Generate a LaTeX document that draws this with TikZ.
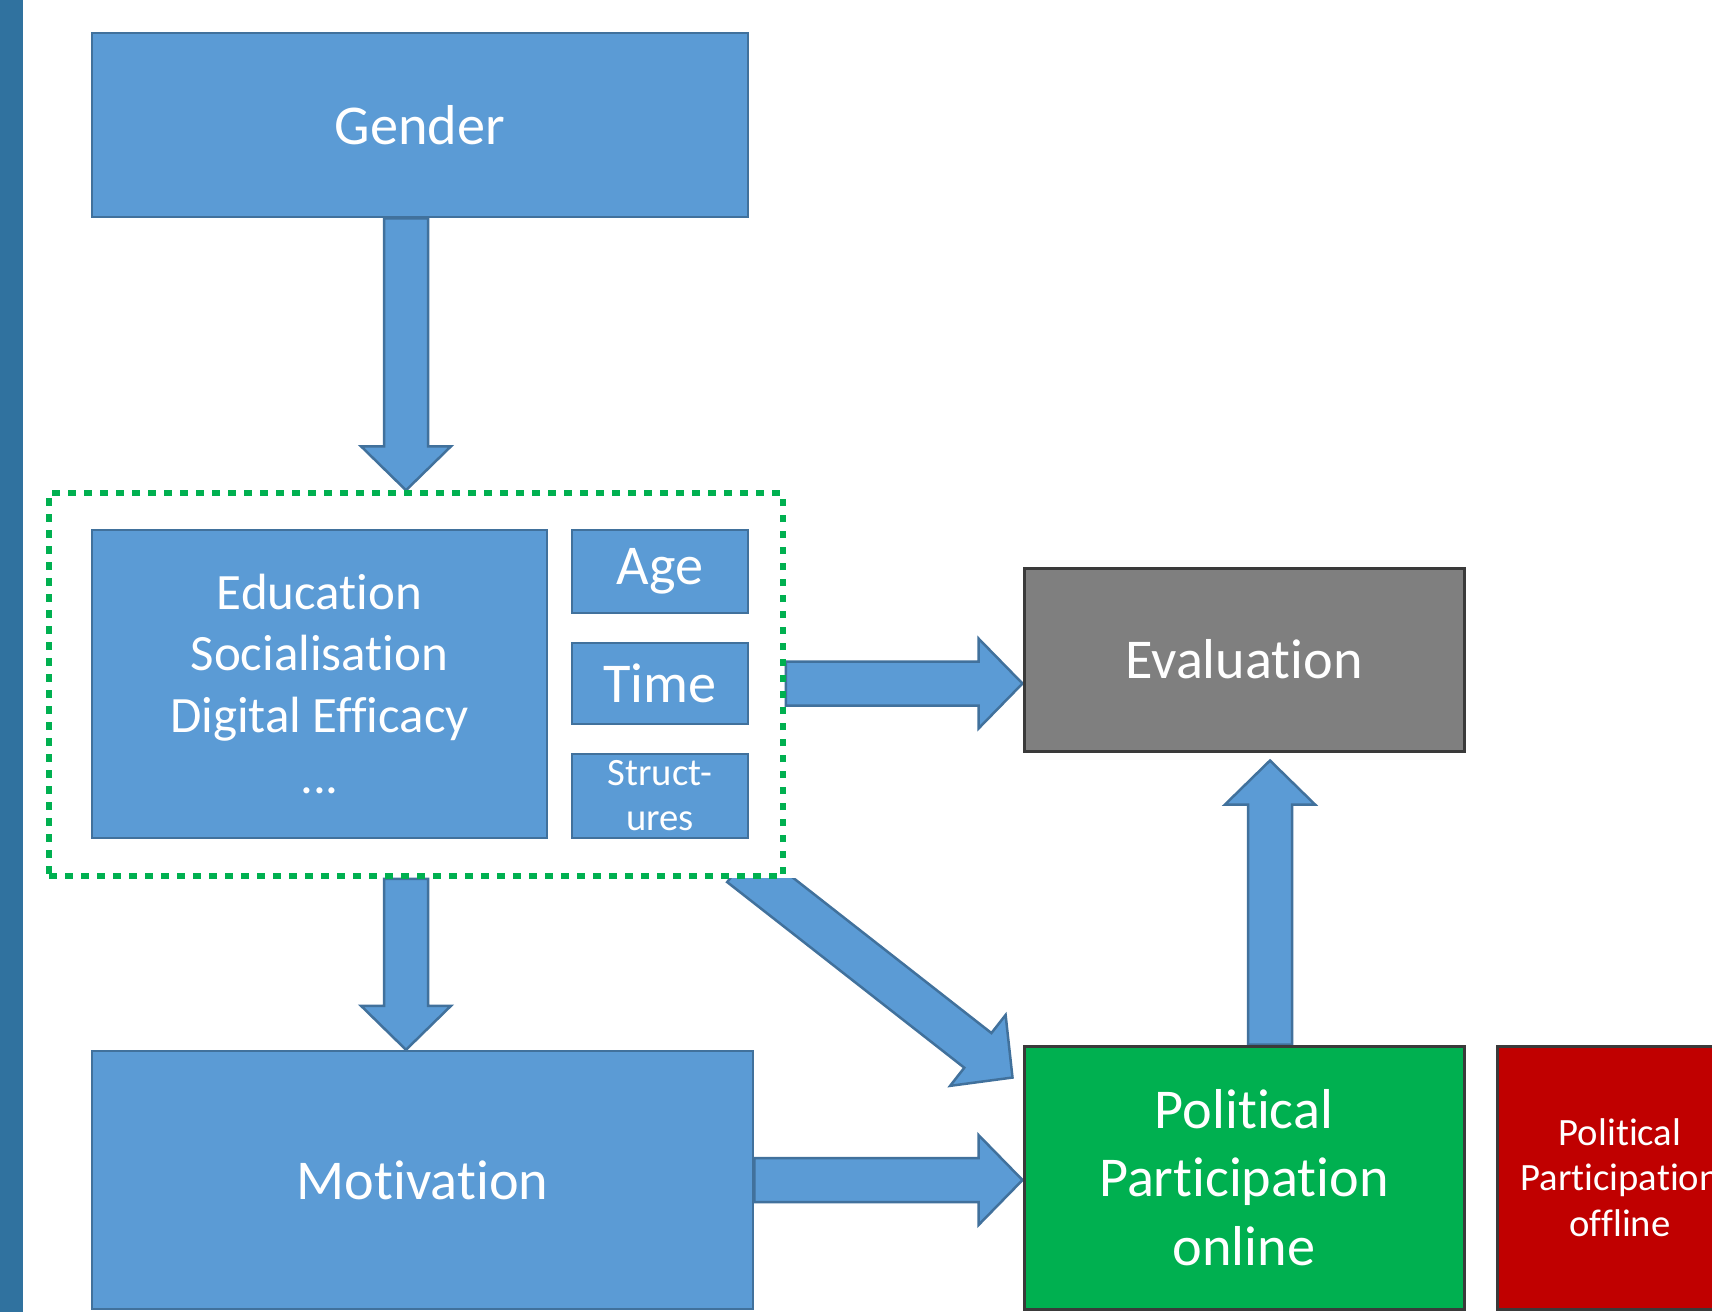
\documentclass[tikz,border=0pt]{standalone}
\usepackage{fontspec}
\setmainfont{Carlito}[Ligatures=NoCommon]
\usetikzlibrary{calc,backgrounds}

\definecolor{boxblue}{HTML}{5B9BD5}
\definecolor{boxline}{HTML}{41719C}
\definecolor{barblue}{HTML}{30729F}
\definecolor{evalgray}{HTML}{7F7F7F}
\definecolor{darkline}{HTML}{3A3A3A}
\definecolor{ongreen}{HTML}{00B050}
\definecolor{offred}{HTML}{C00000}

\tikzset{
  box/.style={draw=boxline, fill=boxblue, line width=0.025cm, text=white,
    inner sep=0pt, align=center},
  resbox/.style={draw=darkline, line width=0.03cm, text=white,
    inner sep=0pt, align=center},
  grpbox/.style={draw=ongreen, line width=0.055cm,
    dash pattern=on 0.075cm off 0.085cm},
  blockarr/.style={draw=boxline, fill=boxblue, line width=0.025cm,
    line join=miter},
  big/.style={font=\fontsize{16}{19.5}\selectfont},
  small/.style={font=\fontsize{11}{13}\selectfont}
}

\newcommand{\blockarrow}[2]{%
  \path ($(#2)!0.44cm!(#1)$) coordinate (abase);
  \draw[blockarr] ($(#1)!0.22cm!90:(#2)$) -- ($(abase)!0.22cm!90:(#2)$)
    -- ($(abase)!0.45cm!90:(#2)$) -- (#2)
    -- ($(abase)!0.45cm!-90:(#2)$) -- ($(abase)!0.22cm!-90:(#2)$)
    -- ($(#1)!0.22cm!-90:(#2)$) -- cycle;}

\begin{document}
\begin{tikzpicture}
  \useasboundingbox (0,0) rectangle (17.12,-13.12);

  \begin{scope}[every node/.style={box}]
    \node[big, minimum width=6.56cm, minimum height=1.84cm] (gender) at (4.20,-1.25) {Gender};
    \node[font=\fontsize{14.5}{17.4}\selectfont, minimum width=4.55cm, minimum height=3.08cm]
      (edu) at (3.195,-6.84) {Education\\Socialisation\\Digital Efficacy\\...};
    \node[big, minimum width=1.76cm, minimum height=0.83cm] (age) at (6.60,-5.715) {Age};
    \node[big, minimum width=1.76cm, minimum height=0.81cm] (time) at (6.60,-6.835) {Time};
    \node[font=\fontsize{11}{12.8}\selectfont, minimum width=1.76cm, minimum height=0.84cm]
      (struct) at (6.60,-7.96) {Struct-\\ures};
    \node[big, minimum width=6.61cm, minimum height=2.58cm] (motiv) at (4.225,-11.80) {Motivation};
  \end{scope}

  \node[grpbox, minimum width=7.34cm, minimum height=3.83cm] (grp) at (4.16,-6.845) {};

  \begin{scope}[every node/.style={resbox}]
    \node[big, fill=evalgray, minimum width=4.40cm, minimum height=1.83cm] (eval) at (12.44,-6.595) {Evaluation};
    \node[big, fill=ongreen, minimum width=4.40cm, minimum height=2.63cm]
      (online) at (12.44,-11.775) {Political\\Participation\\online};
    \node[small, fill=offred, minimum width=2.46cm, minimum height=2.63cm]
      (offline) at (16.20,-11.775) {Political\\Participation\\offline};
  \end{scope}

  \coordinate (ax) at (4.06,0);
  \coordinate (ux) at (12.70,0);
  \coordinate (gend) at (gender.south -| ax);
  \coordinate (grptop) at (grp.north -| ax);
  \coordinate (grpbot) at (grp.south -| ax);
  \coordinate (motop) at (motiv.north -| ax);
  \coordinate (grpright) at (grp.east |- time);
  \coordinate (evleft) at (eval.west |- time);
  \coordinate (ontop) at (online.north -| ux);
  \coordinate (evbot) at ($(eval.south -| ux)+(0,-0.08)$);
  \coordinate (moright) at (motiv.east);
  \coordinate (onleft) at (online.west |- motiv.east);
  \coordinate (grpcorner) at ($(grp.south east)+(-0.45,0.14)$);
  \coordinate (oncorner) at ($(online.north west)+(-0.10,-0.33)$);

  \begin{scope}[on background layer]
    \fill[white] (0,0) rectangle (17.12,-13.12);
    \fill[barblue] (0,0) rectangle (0.23,-13.12);
    \blockarrow{gend}{grptop}
    \blockarrow{grpbot}{motop}
    \blockarrow{grpright}{evleft}
    \blockarrow{ontop}{evbot}
    \blockarrow{moright}{onleft}
    \begin{scope}
      \clip (grp.south west) rectangle (17.12,-13.12);
      \blockarrow{grpcorner}{oncorner}
    \end{scope}
  \end{scope}

\end{tikzpicture}
\end{document}
